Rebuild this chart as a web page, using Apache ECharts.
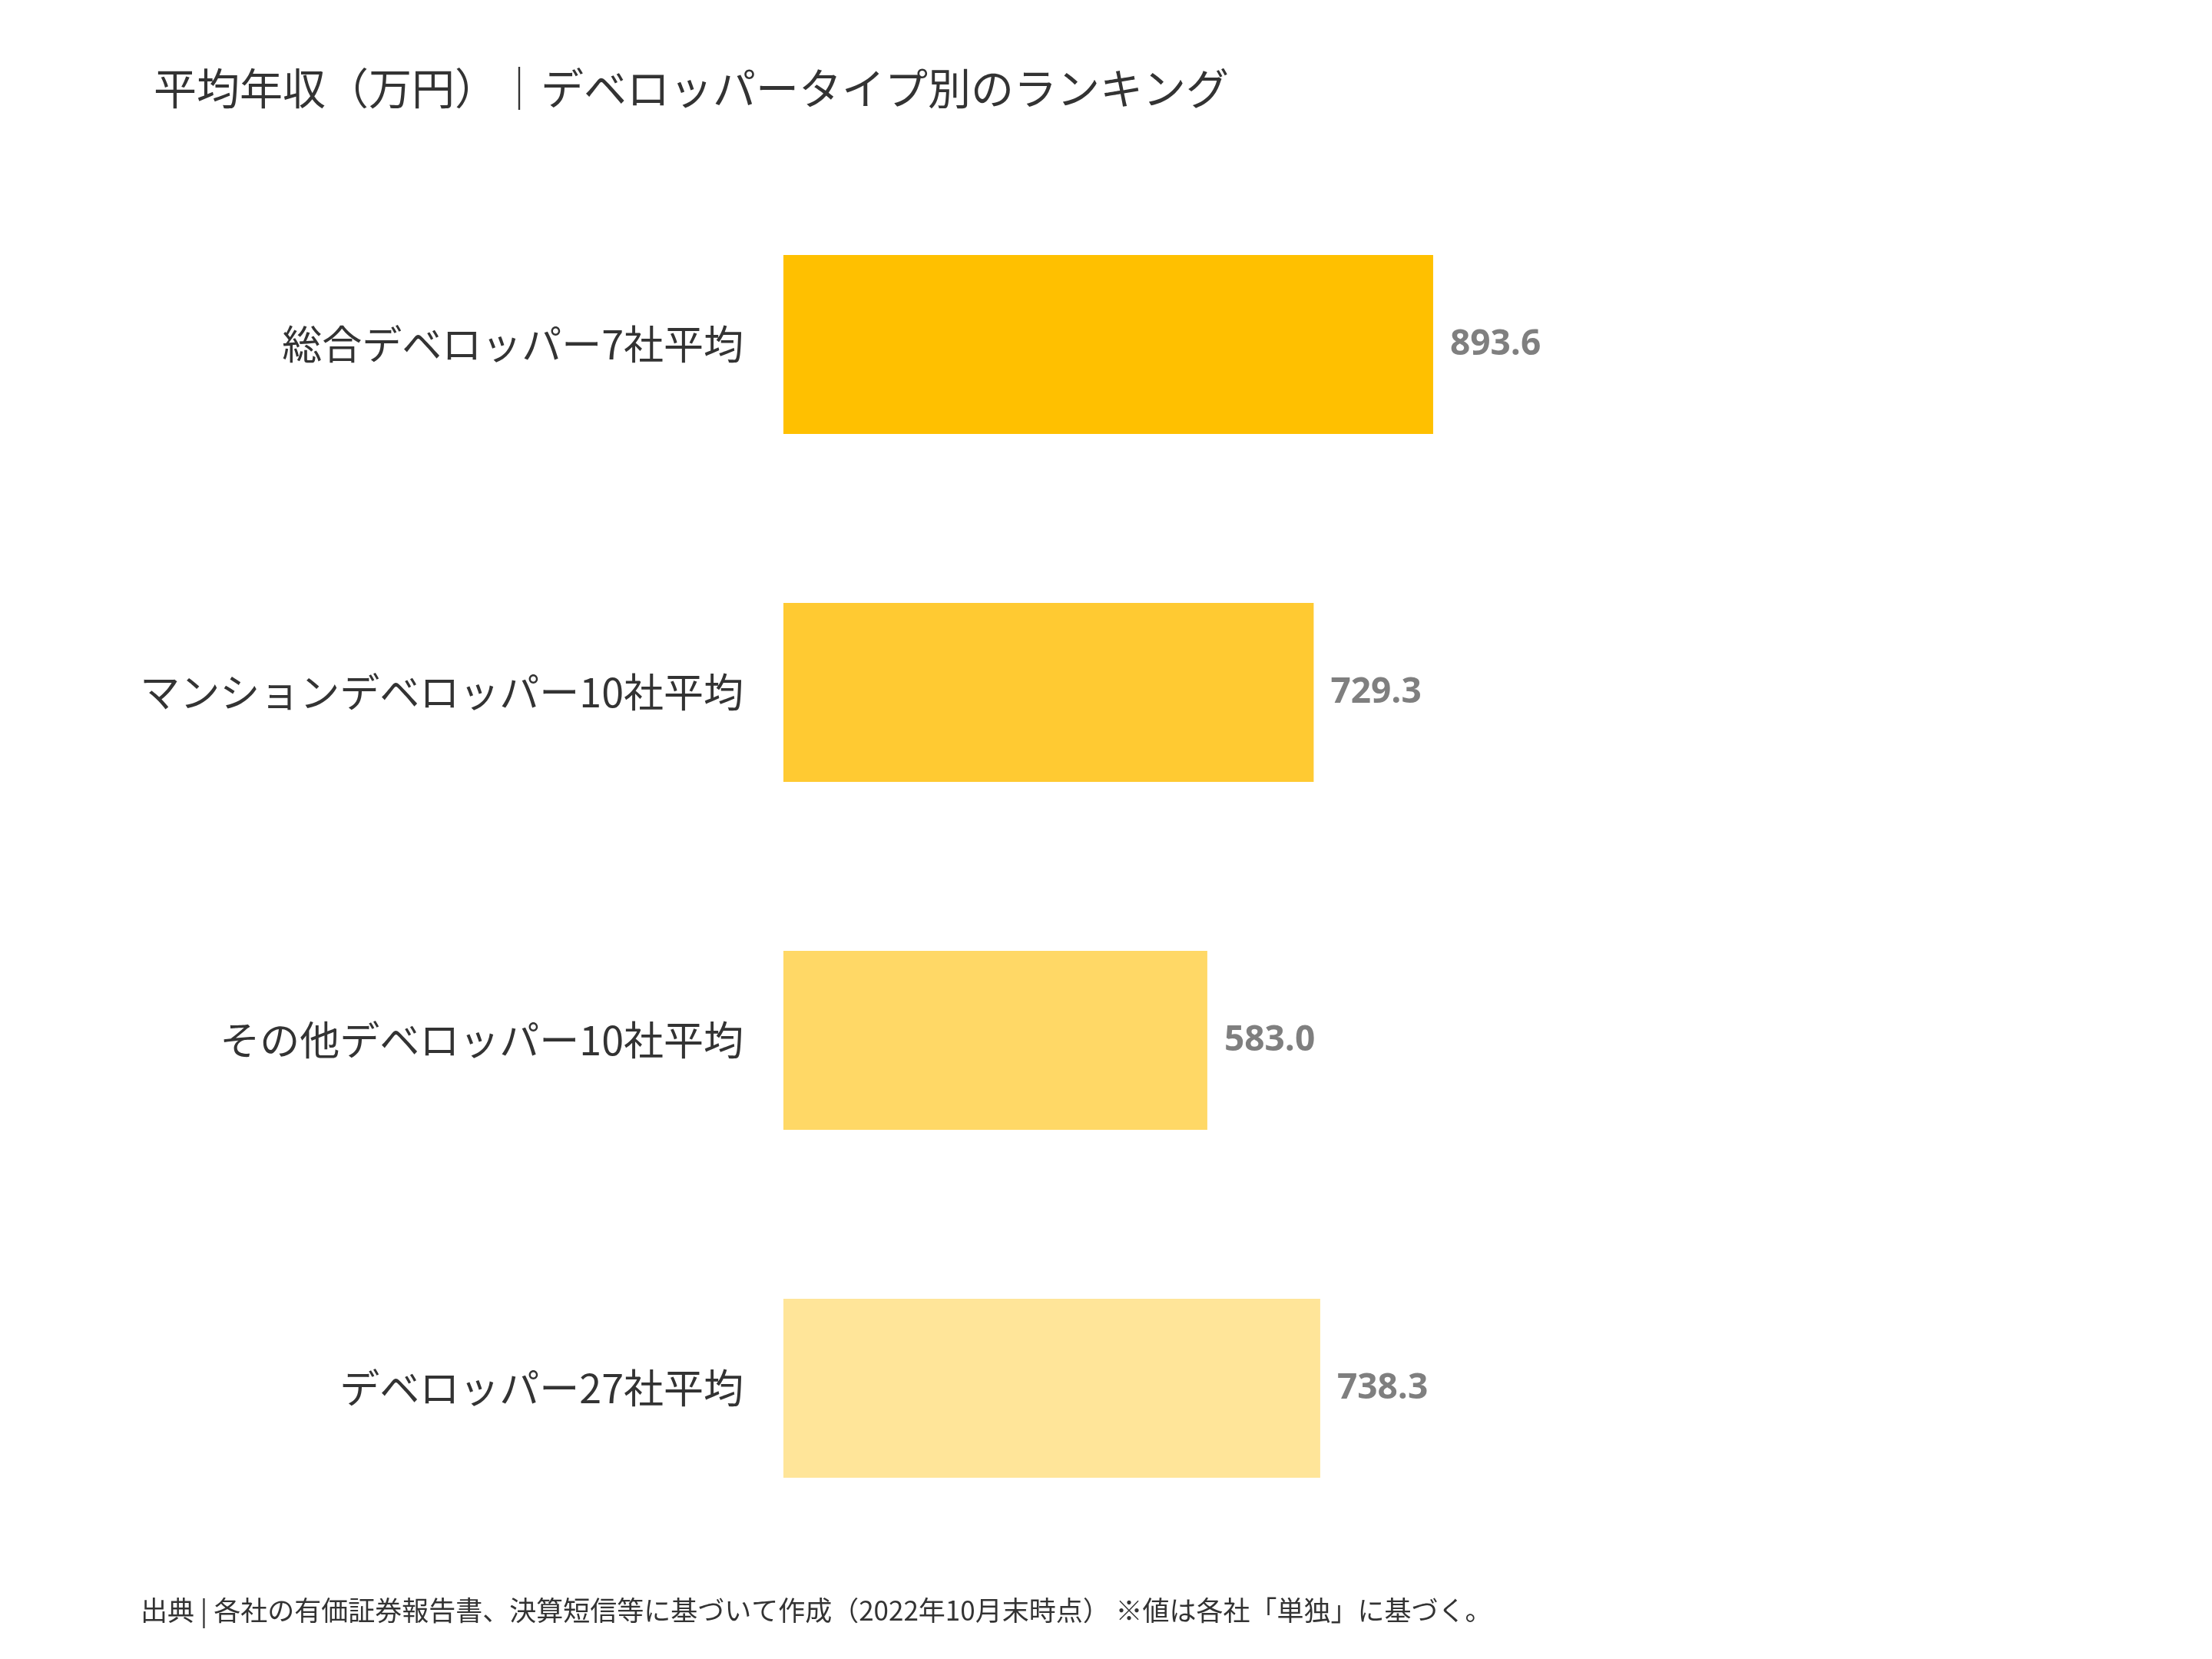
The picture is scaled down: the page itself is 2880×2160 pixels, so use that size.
<!DOCTYPE html>
<html>
<head>
<meta charset="utf-8">
<script src="https://cdn.jsdelivr.net/npm/echarts@6/dist/echarts.min.js"></script>
<style>html,body{margin:0;padding:0;background:#fff}#chart{width:2880px;height:2160px}</style>
</head>
<body>
<div id="chart"></div>
<script>
// Data
var categories = ['総合デベロッパー7社平均', 'マンションデベロッパー10社平均', 'その他デベロッパー10社平均', 'デベロッパー27社平均'];
var salaries = [893.6, 729.3, 583.0, 738.3];
var barColors = ['#FFC000', '#FFCA32', '#FFD866', '#FFE599'];

var chart = echarts.init(document.getElementById('chart'));

chart.setOption({
    backgroundColor: '#fff',
    animation: false,
    textStyle: { fontFamily: '"Noto Sans CJK JP", sans-serif' },
    title: [{
        text: '平均年収（万円）｜デベロッパータイプ別のランキング',
        left: 195, top: 82,
        textStyle: { fontSize: 56, fontWeight: 'normal', color: '#333' }
    }, {
        text: '出典 | 各社の有価証券報告書、決算短信等に基づいて作成（2022年10月末時点） ※値は各社「単独」に基づく。',
        left: 178, top: 2074,
        textStyle: { fontSize: 35, fontWeight: 'normal', color: '#333' }
    }],
    grid: { left: 1020, right: 440, top: 222, bottom: 126 },
    xAxis: { type: 'value', min: 0, max: 1500, show: false },
    yAxis: {
        type: 'category',
        inverse: true,
        data: categories,
        axisLine: { show: false },
        axisTick: { show: false },
        axisLabel: { fontSize: 52, color: '#333', margin: 52 }
    },
    series: [{
        type: 'bar',
        barWidth: 233,
        data: salaries.map(function (v, i) {
            return { value: v, itemStyle: { color: barColors[i] } };
        }),
        label: {
            show: true,
            position: 'right',
            distance: 22,
            formatter: function (p) { return p.value.toFixed(1); },
            fontSize: 46,
            fontWeight: 'bold',
            color: '#7F7F7F',
            fontFamily: '"Open Sans", sans-serif'
        }
    }]
});
</script>
</body>
</html>
